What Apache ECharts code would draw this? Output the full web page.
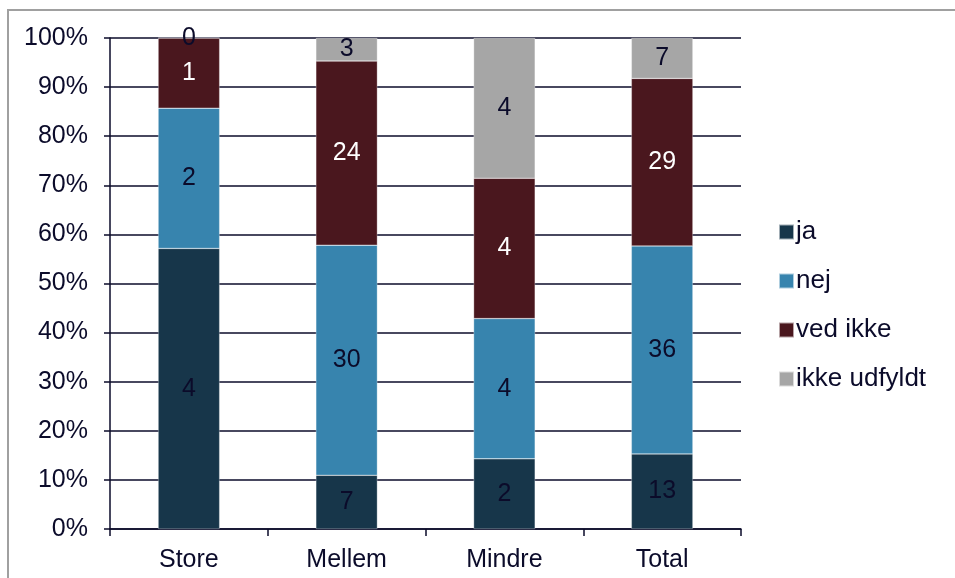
<!DOCTYPE html>
<html><head><meta charset="utf-8">
<script src="https://cdn.jsdelivr.net/npm/echarts@6/dist/echarts.min.js"></script>
<style>html,body{margin:0;padding:0;background:#fff}#c{width:955px;height:578px}</style>
</head><body><div id="c"></div>
<script>
var categories = ['Store', 'Mellem', 'Mindre', 'Total'];
var seriesNames = ['ja', 'nej', 'ved ikke', 'ikke udfyldt'];
var ja = [4, 7, 2, 13];
var nej = [2, 30, 4, 36];
var vedIkke = [1, 24, 4, 29];
var ikkeUdfyldt = [0, 3, 4, 7];
var yTicks = [0, 10, 20, 30, 40, 50, 60, 70, 80, 90, 100];

var colors = ['#17364A', '#3784AE', '#4A171E', '#A6A6A6'];
var labelColors = ['#0B0B2A', '#0B0B2A', '#FFFFFF', '#0B0B2A'];
var counts = [ja, nej, vedIkke, ikkeUdfyldt];
var totals = categories.map(function (c, i) {
  return counts.reduce(function (s, a) { return s + a[i]; }, 0);
});
var font = 'Liberation Sans, Arial, sans-serif';
var fs = 25;
var chart = echarts.init(document.getElementById('c'));
chart.setOption({
  animation: false,
  textStyle: { fontFamily: font },
  graphic: [{
    type: 'rect', shape: { x: 8, y: 10, width: 960, height: 580 },
    style: { fill: 'none', stroke: '#A0A0A0', lineWidth: 2 }, silent: true
  }],
  grid: { left: 110, right: 214, top: 38, bottom: 49 },
  legend: {
    orient: 'vertical', left: 773, top: 214,
    itemWidth: 15, itemHeight: 15, itemGap: 23, icon: 'rect',
    textStyle: { fontSize: 26, color: '#0B0B2A', fontFamily: font, padding: [0, 0, 0, -3] },
    data: seriesNames
  },
  xAxis: {
    type: 'category', data: categories,
    axisLine: { lineStyle: { color: '#0B0B2A', width: 1.5 } },
    axisTick: { show: true, length: 7, alignWithLabel: false, lineStyle: { color: '#0B0B2A', width: 1.5 } },
    axisLabel: { fontSize: fs, color: '#0B0B2A', margin: 19, fontFamily: font }
  },
  yAxis: {
    type: 'value', min: 0, max: 100, interval: 10,
    axisLine: { show: true, lineStyle: { color: '#0B0B2A', width: 1.5 } },
    axisTick: { show: true, length: 6, lineStyle: { color: '#0B0B2A', width: 1.5 } },
    splitLine: { show: true, lineStyle: { color: '#0B0B2A', width: 1.5 } },
    axisLabel: {
      fontSize: fs, color: '#0B0B2A', margin: 22, fontFamily: font,
      formatter: function (v) { return yTicks.indexOf(v) >= 0 ? v + '%' : ''; }
    }
  },
  series: counts.map(function (arr, k) {
    return {
      name: seriesNames[k], type: 'bar', stack: 'all', barWidth: '39%',
      itemStyle: { color: colors[k], borderColor: 'rgba(255,255,255,0.6)', borderWidth: 0.5 },
      label: {
        show: true, position: 'inside', fontSize: fs, color: labelColors[k], fontFamily: font,
        formatter: function (p) { return arr[p.dataIndex]; }
      },
      data: arr.map(function (v, i) { return v / totals[i] * 100; })
    };
  })
});
</script></body></html>
